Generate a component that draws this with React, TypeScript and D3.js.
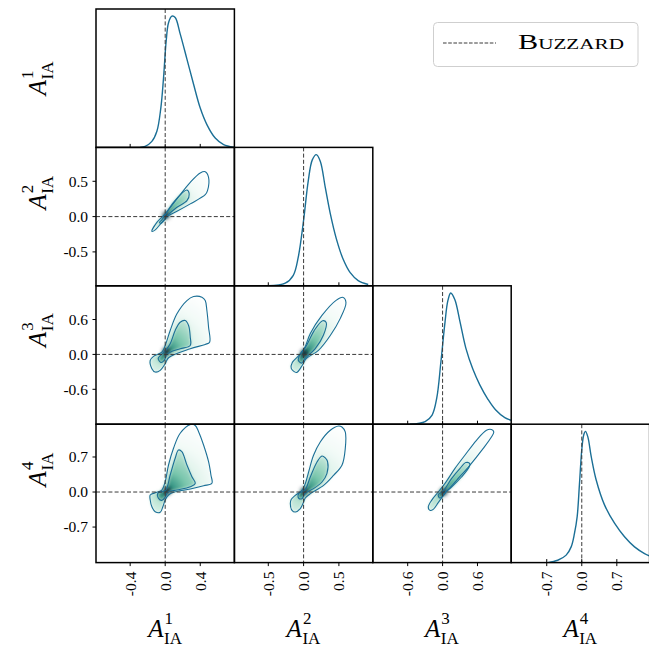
import React from 'react';
import * as d3 from 'd3';

type Pt = [number, number];

const WIDTH = 649;
const HEIGHT = 652;
const GRID_LEFT = 96;
const GRID_TOP = 9;
const CELL = 138.4;
const FONT = "'Liberation Serif', 'DejaVu Serif', serif";
const LINE_COLOR = '#1b6f96';
const REF_COLOR = '#3a3a3a';

// Parameters A_IA^1 .. A_IA^4
const paramIndices = ['1', '2', '3', '4'];
const paramDomains: Pt[] = [[-0.79, 0.79], [-0.98, 0.98], [-1.2, 1.18], [-1.41, 1.355]];
const paramTicks: number[][] = [[-0.4, 0, 0.4], [-0.5, 0, 0.5], [-0.6, 0, 0.6], [-0.7, 0, 0.7]];
const buzzardValues = [0, 0, 0, 0];
const legendLabel = 'Buzzard';

// 1D marginal posteriors, normalised to unit peak: [value, density]
const marginal1: Pt[] = [[-0.286, 0], [-0.229, 0.008], [-0.152, 0.046], [-0.095, 0.123], [-0.05, 0.3], [-0.019, 0.53], [0.011, 0.81], [0.038, 0.95], [0.076, 1.0], [0.114, 0.99], [0.171, 0.865], [0.248, 0.673], [0.324, 0.481], [0.4, 0.3], [0.476, 0.174], [0.571, 0.071], [0.667, 0.021], [0.781, 0.002]];
const marginal2: Pt[] = [[-0.5, 0], [-0.26, 0.02], [-0.146, 0.08], [-0.075, 0.22], [0, 0.5], [0.066, 0.8], [0.123, 0.96], [0.18, 1.0], [0.236, 0.95], [0.307, 0.75], [0.378, 0.55], [0.463, 0.36], [0.562, 0.2], [0.66, 0.1], [0.773, 0.04], [0.915, 0.01]];
const marginal3: Pt[] = [[-0.56, 0], [-0.3, 0.02], [-0.18, 0.07], [-0.1, 0.2], [-0.03, 0.47], [0.04, 0.77], [0.09, 0.94], [0.14, 1.0], [0.21, 0.95], [0.3, 0.78], [0.4, 0.58], [0.52, 0.42], [0.64, 0.3], [0.78, 0.19], [0.91, 0.11], [1.07, 0.05], [1.18, 0.03]];
const marginal4: Pt[] = [[-0.68, 0], [-0.48, 0.018], [-0.312, 0.057], [-0.212, 0.12], [-0.146, 0.222], [-0.092, 0.35], [-0.046, 0.6], [0, 0.86], [0.04, 0.975], [0.074, 1.0], [0.12, 0.96], [0.188, 0.81], [0.288, 0.63], [0.454, 0.44], [0.654, 0.3], [0.854, 0.197], [1.054, 0.12], [1.254, 0.069], [1.36, 0.05]];
const marginals = [marginal1, marginal2, marginal3, marginal4];

// 2D credible regions: outer and inner contour, plus location of the density peak
const contour21Outer: Pt[] = [[-0.152, -0.208], [-0.095, -0.081], [0, 0.038], [0.134, 0.25], [0.286, 0.485], [0.4, 0.618], [0.457, 0.636], [0.495, 0.556], [0.483, 0.368], [0.457, 0.31], [0.286, 0.18], [0.134, 0.075], [0.038, 0.014], [-0.038, -0.081], [-0.114, -0.188]];
const contour21Inner: Pt[] = [[0, 0.028], [0.095, 0.202], [0.19, 0.33], [0.248, 0.377], [0.274, 0.321], [0.248, 0.226], [0.134, 0.132], [0.038, 0.028], [0, -0.033], [-0.05, -0.095], [-0.065, -0.081], [-0.038, -0.047]];
const peak21: Pt = [0.01, 0.02];

const contour31Outer: Pt[] = [[-0.152, -0.245], [-0.114, -0.303], [-0.057, -0.274], [0, -0.16], [0.038, -0.057], [0.286, 0.097], [0.457, 0.172], [0.507, 0.211], [0.495, 0.468], [0.476, 0.755], [0.457, 0.926], [0.419, 0.983], [0.324, 0.995], [0.248, 0.926], [0.134, 0.698], [0.057, 0.412], [0, 0.154], [-0.038, 0.039], [-0.133, -0.034], [-0.171, -0.103]];
const contour31Inner: Pt[] = [[-0.004, 0.051], [0.057, 0.183], [0.114, 0.412], [0.171, 0.554], [0.229, 0.583], [0.267, 0.497], [0.286, 0.297], [0.286, 0.154], [0.171, 0.097], [0.057, 0.039], [0.019, 0], [-0.011, -0.103], [-0.05, -0.137], [-0.08, -0.068], [-0.042, 0]];
const peak31: Pt = [0.01, 0.05];

const contour41Outer: Pt[] = [[0.29, 1.35], [0.343, 1.33], [0.381, 1.206], [0.438, 0.94], [0.495, 0.606], [0.522, 0.34], [0.533, 0.174], [0.438, 0.126], [0.286, 0.06], [0.095, -0.006], [0.038, -0.06], [0, -0.16], [-0.027, -0.294], [-0.057, -0.406], [-0.114, -0.394], [-0.152, -0.294], [-0.171, -0.16], [-0.171, -0.06], [-0.095, -0.006], [-0.038, 0.04], [0, 0.206], [0.038, 0.54], [0.095, 0.874], [0.171, 1.174]];
const contour41Inner: Pt[] = [[0.005, 0.04], [0.057, 0.34], [0.114, 0.674], [0.152, 0.84], [0.19, 0.806], [0.248, 0.54], [0.305, 0.306], [0.343, 0.174], [0.286, 0.106], [0.134, 0.04], [0.03, 0.0], [0.004, -0.094], [-0.038, -0.166], [-0.076, -0.126], [-0.084, -0.026]];
const peak41: Pt = [0.02, 0.02];

const contour32Outer: Pt[] = [[-0.175, -0.24], [-0.1, -0.31], [-0.02, -0.19], [0.04, -0.07], [0.21, 0.07], [0.38, 0.33], [0.52, 0.62], [0.6, 0.89], [0.56, 0.98], [0.46, 0.93], [0.26, 0.67], [0.095, 0.36], [0.01, 0.1], [-0.075, -0.03], [-0.16, -0.14]];
const contour32Inner: Pt[] = [[-0.075, -0.1], [-0.03, -0.15], [0.02, -0.07], [0.165, 0.1], [0.28, 0.33], [0.32, 0.55], [0.27, 0.58], [0.15, 0.41], [0.04, 0.15], [-0.05, 0]];
const peak32: Pt = [0.01, 0.02];

const contour42Outer: Pt[] = [[-0.188, -0.232], [-0.164, -0.366], [-0.117, -0.4], [-0.047, -0.332], [0, -0.2], [0.024, -0.12], [0.095, -0.032], [0.283, 0.134], [0.424, 0.334], [0.543, 0.534], [0.59, 0.868], [0.59, 1.2], [0.543, 1.3], [0.495, 1.32], [0.378, 1.234], [0.236, 1.0], [0.141, 0.734], [0.071, 0.4], [0.024, 0.168], [-0.023, 0.034], [-0.117, -0.066], [-0.174, -0.146]];
const contour42Inner: Pt[] = [[0.015, 0.03], [0.095, 0.3], [0.19, 0.6], [0.26, 0.72], [0.307, 0.68], [0.34, 0.6], [0.33, 0.368], [0.26, 0.2], [0.141, 0.068], [0.047, 0.0], [0.01, -0.052], [-0.023, -0.132], [-0.071, -0.12], [-0.071, -0.032]];
const peak42: Pt = [0.01, 0.02];

const contour43Outer: Pt[] = [[-0.246, -0.3], [-0.218, -0.366], [-0.161, -0.346], [-0.075, -0.212], [0.039, -0.032], [0.24, 0.234], [0.468, 0.534], [0.696, 0.868], [0.84, 1.1], [0.88, 1.2], [0.84, 1.248], [0.755, 1.234], [0.583, 1.034], [0.383, 0.734], [0.211, 0.468], [0.039, 0.168], [-0.075, 0], [-0.189, -0.166]];
const contour43Inner: Pt[] = [[0.01, 0.02], [0.154, 0.268], [0.297, 0.468], [0.4, 0.588], [0.468, 0.568], [0.457, 0.5], [0.325, 0.3], [0.154, 0.1], [0.039, -0.012], [0.011, -0.066], [-0.047, -0.12], [-0.075, -0.052]];
const peak43: Pt = [0.02, 0.0];

const contourPanels = [
  { row: 1, col: 0, outer: contour21Outer, inner: contour21Inner, peak: peak21 },
  { row: 2, col: 0, outer: contour31Outer, inner: contour31Inner, peak: peak31 },
  { row: 3, col: 0, outer: contour41Outer, inner: contour41Inner, peak: peak41 },
  { row: 2, col: 1, outer: contour32Outer, inner: contour32Inner, peak: peak32 },
  { row: 3, col: 1, outer: contour42Outer, inner: contour42Inner, peak: peak42 },
  { row: 3, col: 2, outer: contour43Outer, inner: contour43Inner, peak: peak43 },
];

// white -> teal -> near-black colormap used for the density shading
const shade = d3.interpolateRgbBasis(['#ffffff', '#e4f5ee', '#b4e0cf', '#68c0a1', '#2c9681', '#125d68', '#0a2a36']);

const tickFmt = d3.formatLocale({ decimal: '.', thousands: ',', grouping: [3], currency: ['', ''], minus: '-' }).format('.1f');

// vertical offset of the row labels relative to the row centre
const rowLabelShift = [0, -24, -25, -24];

function ParamLabel({ x, y, idx, vertical }: { x: number; y: number; idx: string; vertical?: boolean }) {
  return (
    <g transform={`translate(${x},${y}) rotate(${vertical ? -90 : 0})`}>
      <text x={-17} y={0} fill="#000">
        <tspan fontSize={25} fontStyle="italic">A</tspan>
        <tspan fontSize={17} dx={1} dy={-13}>{idx}</tspan>
        <tspan fontSize={17} dx={-9} dy={20}>IA</tspan>
      </text>
    </g>
  );
}

export default function App() {
  const n = paramDomains.length;
  const xs = paramDomains.map((d, i) => d3.scaleLinear().domain(d).range([GRID_LEFT + i * CELL, GRID_LEFT + (i + 1) * CELL]));
  const ys = paramDomains.map((d, i) => d3.scaleLinear().domain(d).range([GRID_TOP + (i + 1) * CELL, GRID_TOP + i * CELL]));
  const left = (c: number) => GRID_LEFT + c * CELL;
  const top = (r: number) => GRID_TOP + r * CELL;

  const cells: { r: number; c: number }[] = [];
  for (let r = 0; r < n; r++) for (let c = 0; c <= r; c++) cells.push({ r, c });

  const closedPath = (pts: Pt[], r: number, c: number) =>
    d3.line<Pt>().x(p => xs[c](p[0])).y(p => ys[r](p[1])).curve(d3.curveCatmullRomClosed.alpha(0.5))(pts) || '';

  const farthest = (cx: number, cy: number, pts: Pt[], r: number, c: number) =>
    d3.max(pts, p => Math.hypot(xs[c](p[0]) - cx, ys[r](p[1]) - cy)) || 1;

  const bottomY = top(n);

  return (
    <svg width={WIDTH} height={HEIGHT} style={{ position: 'absolute', left: 0, top: 0 }} fontFamily={FONT}>
      <defs>
        <filter id="soft" x="-30%" y="-30%" width="160%" height="160%">
          <feGaussianBlur stdDeviation="1.5" />
        </filter>
        <filter id="spot" x="-100%" y="-100%" width="300%" height="300%">
          <feGaussianBlur stdDeviation="2" />
        </filter>
        {cells.map(({ r, c }) => (
          <clipPath id={`clip-${r}-${c}`} key={`clip-${r}-${c}`}>
            <rect x={left(c)} y={top(r)} width={CELL} height={CELL} />
          </clipPath>
        ))}
        {contourPanels.map(p => {
          const cx = xs[p.col](p.peak[0]);
          const cy = ys[p.row](p.peak[1]);
          const rOut = farthest(cx, cy, p.outer, p.row, p.col);
          const rIn = farthest(cx, cy, p.inner, p.row, p.col);
          return (
            <React.Fragment key={`g-${p.row}-${p.col}`}>
              <radialGradient id={`go-${p.row}-${p.col}`} gradientUnits="userSpaceOnUse" cx={cx} cy={cy} r={rOut}>
                <stop offset="0" stopColor={shade(0.4)} />
                <stop offset="0.3" stopColor={shade(0.22)} />
                <stop offset="0.65" stopColor={shade(0.08)} />
                <stop offset="1" stopColor={shade(0)} />
              </radialGradient>
              <radialGradient id={`gi-${p.row}-${p.col}`} gradientUnits="userSpaceOnUse" cx={cx} cy={cy} r={rIn}>
                <stop offset="0" stopColor={shade(0.92)} />
                <stop offset="0.12" stopColor={shade(0.68)} />
                <stop offset="0.45" stopColor={shade(0.47)} />
                <stop offset="1" stopColor={shade(0.27)} />
              </radialGradient>
            </React.Fragment>
          );
        })}
      </defs>
      <rect x={0} y={0} width={WIDTH} height={HEIGHT} fill="#fff" />

      {/* 2D density shading and credible contours */}
      {contourPanels.map(p => {
        const cx = xs[p.col](p.peak[0]);
        const cy = ys[p.row](p.peak[1]);
        const outerD = closedPath(p.outer, p.row, p.col);
        const innerD = closedPath(p.inner, p.row, p.col);
        return (
          <g key={`cp-${p.row}-${p.col}`} clipPath={`url(#clip-${p.row}-${p.col})`}>
            <g filter="url(#soft)">
              <path d={outerD} fill={`url(#go-${p.row}-${p.col})`} />
              <path d={innerD} fill={`url(#gi-${p.row}-${p.col})`} />
            </g>
            <ellipse cx={cx} cy={cy} rx={3.2} ry={3.2} fill={shade(1)} filter="url(#spot)" />
            <path d={outerD} fill="none" stroke={LINE_COLOR} strokeWidth={1.1} />
            <path d={innerD} fill="none" stroke={LINE_COLOR} strokeWidth={1.1} />
          </g>
        );
      })}

      {/* 1D marginals */}
      {marginals.map((m, i) => {
        const yd = d3.scaleLinear().domain([0, 1.055]).range([top(i + 1), top(i)]);
        const d = d3.line<Pt>().x(p => xs[i](p[0])).y(p => yd(p[1])).curve(d3.curveCatmullRom.alpha(0.5))(m) || '';
        return (
          <g key={`m-${i}`} clipPath={`url(#clip-${i}-${i})`}>
            <path d={d} fill="none" stroke={LINE_COLOR} strokeWidth={1.4} />
          </g>
        );
      })}

      {/* reference (Buzzard) values */}
      {cells.map(({ r, c }) => (
        <g key={`ref-${r}-${c}`} clipPath={`url(#clip-${r}-${c})`} stroke={REF_COLOR} strokeWidth={1} strokeDasharray="4 2.2">
          <line x1={xs[c](buzzardValues[c])} x2={xs[c](buzzardValues[c])} y1={top(r)} y2={top(r + 1)} />
          {r !== c && <line x1={left(c)} x2={left(c + 1)} y1={ys[r](buzzardValues[r])} y2={ys[r](buzzardValues[r])} />}
        </g>
      ))}

      {/* ticks on diagonal panels (inward) */}
      {marginals.map((_, i) => (
        <g key={`dt-${i}`} stroke="#000" strokeWidth={1}>
          {paramTicks[i].map(t => (
            <line key={t} x1={xs[i](t)} x2={xs[i](t)} y1={top(i + 1)} y2={top(i + 1) - 3.5} />
          ))}
        </g>
      ))}

      {/* bottom row ticks and labels */}
      {paramTicks.map((ticks, c) => (
        <g key={`bx-${c}`}>
          {ticks.map(t => (
            <g key={t}>
              <line x1={xs[c](t)} x2={xs[c](t)} y1={bottomY} y2={bottomY + 3.5} stroke="#000" strokeWidth={1} />
              <text transform={`translate(${xs[c](t)},${bottomY + 9}) rotate(-90)`} textAnchor="end" dy="0.35em" fontSize={15.5} fill="#000">
                {tickFmt(t)}
              </text>
            </g>
          ))}
        </g>
      ))}

      {/* left column ticks and labels */}
      {paramTicks.map((ticks, r) =>
        r === 0 ? null : (
          <g key={`ly-${r}`}>
            {ticks.map(t => (
              <g key={t}>
                <line x1={GRID_LEFT - 3.5} x2={GRID_LEFT} y1={ys[r](t)} y2={ys[r](t)} stroke="#000" strokeWidth={1} />
                <text x={GRID_LEFT - 8} y={ys[r](t)} dy="0.35em" textAnchor="end" fontSize={15.5} fill="#000">
                  {tickFmt(t)}
                </text>
              </g>
            ))}
          </g>
        )
      )}

      {/* panel frames */}
      {cells.map(({ r, c }) => (
        <rect key={`f-${r}-${c}`} x={left(c)} y={top(r)} width={CELL} height={CELL} fill="none" stroke="#000" strokeWidth={1.5} />
      ))}

      {/* axis labels */}
      {paramIndices.map((idx, i) => (
        <ParamLabel key={`xl-${i}`} x={left(i) + CELL / 2} y={637} idx={idx} />
      ))}
      {paramIndices.map((idx, i) => (
        <ParamLabel key={`yl-${i}`} x={46} y={top(i) + CELL / 2 + rowLabelShift[i]} idx={idx} vertical />
      ))}

      {/* legend */}
      <g>
        <rect x={433.5} y={22.5} width={204.5} height={44} rx={4} fill="#fff" stroke="#cfcfcf" strokeWidth={1} />
        <line x1={443} x2={496} y1={43} y2={43} stroke={REF_COLOR} strokeWidth={1} strokeDasharray="3.6 1.6" />
        <text x={518} y={48.5} fontSize={20} style={{ fontVariant: 'small-caps' }} textLength={106} lengthAdjust="spacingAndGlyphs" fill="#000">
          {legendLabel}
        </text>
      </g>
    </svg>
  );
}
